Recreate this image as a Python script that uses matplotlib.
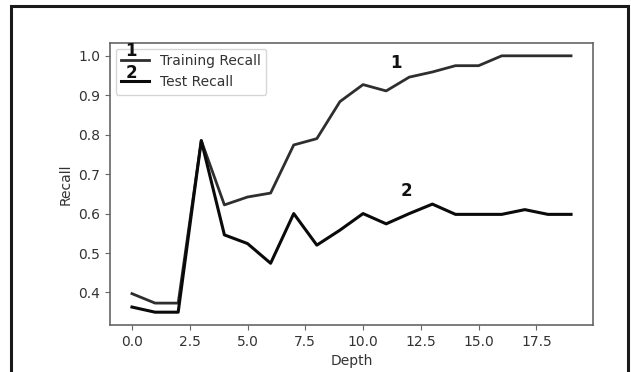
import matplotlib
matplotlib.use("Agg")
import matplotlib.pyplot as plt
from matplotlib.patches import Rectangle
import numpy as np

depth = list(range(20))
train_recall = [0.397, 0.373, 0.373, 0.785, 0.622, 0.642, 0.652, 0.774, 0.790, 0.884,
                0.927, 0.911, 0.946, 0.959, 0.975, 0.975, 1.0, 1.0, 1.0, 1.0]
test_recall = [0.363, 0.350, 0.350, 0.785, 0.546, 0.524, 0.474, 0.600, 0.520, 0.558,
               0.600, 0.574, 0.600, 0.624, 0.598, 0.598, 0.598, 0.610, 0.598, 0.598]
series_labels = ["Training Recall", "Test Recall"]

txt = "#333333"
num_font = dict(family=["Liberation Sans Narrow", "DejaVu Sans"], fontweight="bold",
                fontsize=12, color="#111111", ha="center", va="center", zorder=10)

fig = plt.figure(figsize=(6.31, 3.72), dpi=100)
ax = fig.add_axes([110/631, 1 - 325/372, 483/631, 282/372])

ax.plot(depth, train_recall, color="#2e2e2e", lw=2.0, label=series_labels[0])
ax.plot(depth, test_recall, color="#0a0a0a", lw=2.2, label=series_labels[1])

ax.set_xlabel("Depth", color=txt)
ax.set_ylabel("Recall", color=txt)
for s in ax.spines.values():
    s.set_color("#666666")
    s.set_linewidth(1.2)
ax.tick_params(colors="#666666", labelcolor=txt)

leg = ax.legend(loc="upper left", fontsize=10, borderaxespad=0.4)
leg.get_frame().set_edgecolor("#cccccc")
for t in leg.get_texts():
    t.set_color(txt)

# numbered markers over the legend handles and next to each curve
ax.text(0.0435, 0.972, "1", transform=ax.transAxes, **num_font)
ax.text(0.0435, 0.895, "2", transform=ax.transAxes, **num_font)
ax.text(11.42, 0.982, "1", **num_font)
ax.text(11.86, 0.657, "2", **num_font)

# outer frame around the figure
fig.add_artist(Rectangle((11/631, -0.1), 617/631, 1.1 - 6/372, transform=fig.transFigure,
                         fill=False, edgecolor="#1a1a1a", lw=2.2, clip_on=False))

fig.savefig("out.png", dpi=100)
